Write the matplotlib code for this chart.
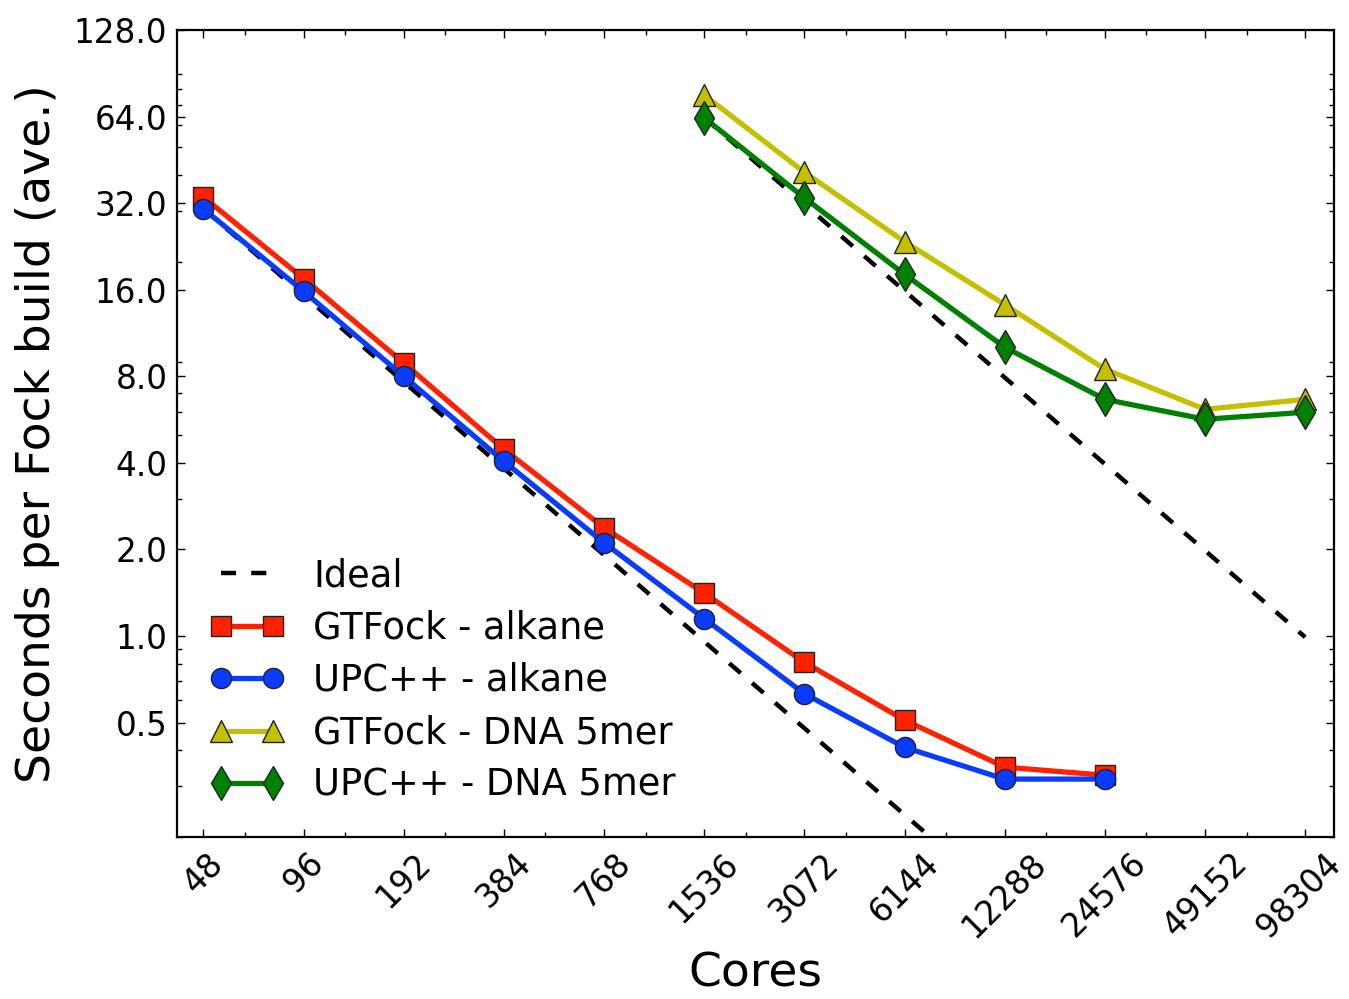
import numpy as np
import matplotlib
matplotlib.use("Agg")
import matplotlib.pyplot as plt
import matplotlib.transforms as mtransforms
from matplotlib.ticker import FixedLocator, LogLocator, FuncFormatter, NullFormatter

# ---- data ----
cores_alkane = [48, 96, 192, 384, 768, 1536, 3072, 6144, 12288, 24576]
gtfock_alkane = [33.6, 17.5, 8.9, 4.46, 2.38, 1.41, 0.81, 0.51, 0.35, 0.328]
upcxx_alkane = [30.6, 15.8, 8.0, 4.05, 2.11, 1.15, 0.63, 0.41, 0.318, 0.318]

cores_dna = [1536, 3072, 6144, 12288, 24576, 49152, 98304]
gtfock_dna = [76.0, 41.0, 23.5, 14.2, 8.47, 6.14, 6.65]
upcxx_dna = [63.4, 33.4, 18.1, 10.1, 6.65, 5.67, 6.0]

xtick_values = [48, 96, 192, 384, 768, 1536, 3072, 6144, 12288, 24576, 49152, 98304]
ytick_values = [0.5, 1.0, 2.0, 4.0, 8.0, 16.0, 32.0, 64.0, 128.0]

# ideal scaling derived from the first UPC++ point of each series
ideal_alkane = [upcxx_alkane[0] * cores_alkane[0] / c for c in cores_alkane]
ideal_dna = [upcxx_dna[0] * cores_dna[0] / c for c in cores_dna]

fig = plt.figure(figsize=(13.49, 9.99), dpi=100)
ax = fig.add_axes([177 / 1349, 1 - 837 / 999, (1334 - 177) / 1349, (837 - 30) / 999])

lw = 3.8
ms = 14.5
ideal_kw = dict(color="black", lw=3.2, dashes=(3.4, 3.4))
ax.plot(cores_alkane, ideal_alkane, label="Ideal", **ideal_kw)
ax.plot(cores_dna, ideal_dna, **ideal_kw)

ax.plot(cores_alkane, gtfock_alkane, color="#ff2200", lw=lw, marker="s", ms=ms,
        mfc="#ff2200", mec="#222222", mew=1.0, label="GTFock - alkane")
ax.plot(cores_alkane, upcxx_alkane, color="#0a3cff", lw=lw, marker="o", ms=ms,
        mfc="#0a3cff", mec="#222222", mew=1.0, label="UPC++ - alkane")
ax.plot(cores_dna, gtfock_dna, color="#c4c000", lw=lw, marker="^", ms=ms + 1,
        mfc="#c4c000", mec="#222222", mew=1.0, label="GTFock - DNA 5mer")
ax.plot(cores_dna, upcxx_dna, color="#008000", lw=lw, marker="d", ms=ms + 3,
        mfc="#008000", mec="#222222", mew=1.0, label="UPC++ - DNA 5mer")

ax.set_xscale("log", base=2)
ax.set_yscale("log", base=2)
ax.set_xlim(40, 120000)
ax.set_ylim(0.2, 128)

ax.xaxis.set_major_locator(FixedLocator(xtick_values))
ax.xaxis.set_major_formatter(FuncFormatter(lambda v, p: "%d" % round(v)))
ax.xaxis.set_minor_locator(LogLocator(base=2, subs=(1.0,), numticks=40))
ax.xaxis.set_minor_formatter(NullFormatter())

ax.yaxis.set_major_locator(FixedLocator(ytick_values))
ax.yaxis.set_major_formatter(FuncFormatter(lambda v, p: "%.1f" % v))
ax.yaxis.set_minor_locator(LogLocator(base=10, subs=(2, 3, 4, 5, 6, 7, 8, 9), numticks=40))
ax.yaxis.set_minor_formatter(NullFormatter())

ax.tick_params(which="both", direction="in", top=True, right=True, width=1.0)
ax.tick_params(which="major", length=6, pad=7, labelsize=23.5)
ax.tick_params(which="minor", length=3.5)
for lab in ax.get_xticklabels():
    lab.set_rotation(45)

# nudge the last x tick label slightly left so it stays inside the figure
fig.canvas.draw()
last_lab = ax.get_xticklabels()[-1]
shift = mtransforms.ScaledTranslation(-6 / 100, 0, fig.dpi_scale_trans)
last_lab.set_transform(last_lab.get_transform() + shift)

for s in ax.spines.values():
    s.set_linewidth(1.6)

ax.set_xlabel("Cores", fontsize=34, labelpad=6)
ax.set_ylabel("Seconds per Fock build (ave.)", fontsize=34, labelpad=10)

ax.legend(loc="lower left", frameon=False, fontsize=26.5, numpoints=2,
          labelspacing=0.42, handlelength=2.0)

fig.savefig("out.png", dpi=100)
